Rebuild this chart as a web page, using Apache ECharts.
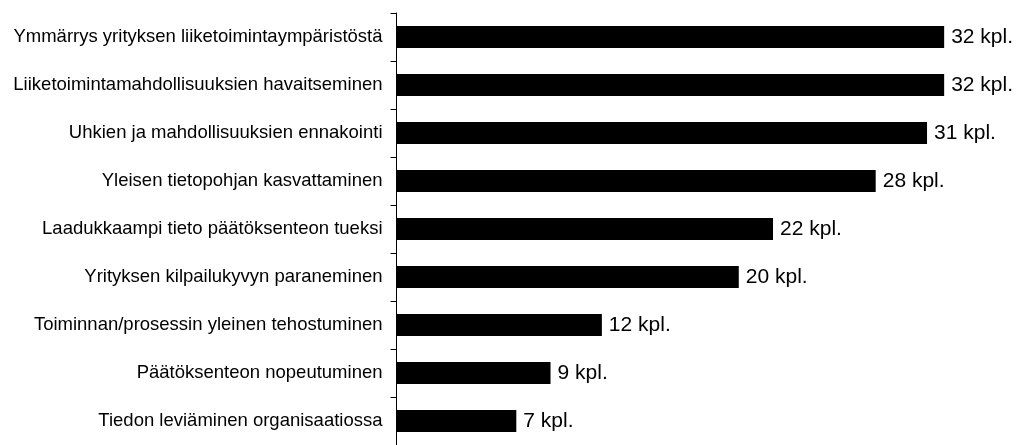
<!DOCTYPE html>
<html><head><meta charset="utf-8">
<script src="https://cdn.jsdelivr.net/npm/echarts@6/dist/echarts.min.js"></script>
<style>html,body{margin:0;padding:0;background:#fff}#c{width:1018px;height:445px}</style>
</head><body><div id="c"></div>
<script>
const categories = [
  "Ymmärrys yrityksen liiketoimintaympäristöstä",
  "Liiketoimintamahdollisuuksien havaitseminen",
  "Uhkien ja mahdollisuuksien ennakointi",
  "Yleisen tietopohjan kasvattaminen",
  "Laadukkaampi tieto päätöksenteon tueksi",
  "Yrityksen kilpailukyvyn paraneminen",
  "Toiminnan/prosessin yleinen tehostuminen",
  "Päätöksenteon nopeutuminen",
  "Tiedon leviäminen organisaatiossa"
];
const values = [32, 32, 31, 28, 22, 20, 12, 9, 7];
const unit = " kpl.";

const chart = echarts.init(document.getElementById('c'));
chart.setOption({
  animation: false,
  grid: {left: 396.5, top: 13, width: 599, height: 434, containLabel: false},
  xAxis: {type: 'value', min: 0, max: 35, show: false},
  yAxis: {
    type: 'category', inverse: true, data: categories,
    axisLine: {show: true, lineStyle: {color: '#000', width: 1}},
    axisTick: {show: true, length: 6, lineStyle: {color: '#000'}},
    axisLabel: {color: '#000', fontFamily: 'Liberation Sans', fontSize: 18.5, margin: 14}
  },
  series: [{
    type: 'bar', data: values, barWidth: 22, itemStyle: {color: '#000'},
    label: {show: true, position: 'right', distance: 7, color: '#000', fontFamily: 'Liberation Sans', fontSize: 21,
      formatter: p => p.value + unit}
  }]
});
</script></body></html>
